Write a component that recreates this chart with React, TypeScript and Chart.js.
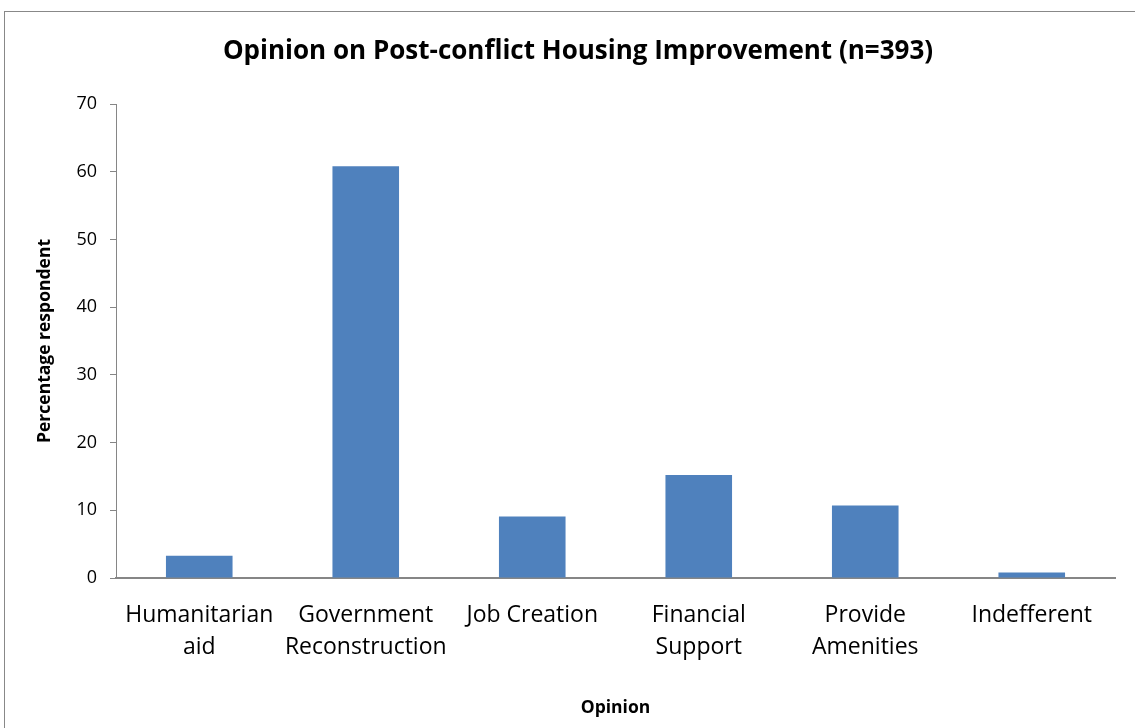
import React, { useEffect, useRef } from "react";
import { Chart, registerables } from "chart.js";

Chart.register(...registerables);

const categories: string[][] = [
  ["Humanitarian", "aid"],
  ["Government", "Reconstruction"],
  ["Job Creation"],
  ["Financial", "Support"],
  ["Provide", "Amenities"],
  ["Indefferent"],
];
const percentages: number[] = [3.3, 60.8, 9.1, 15.2, 10.7, 0.8];
const yMin = 0;
const yMax = 70;
const yStep = 10;

const chartTitle = "Opinion on Post-conflict Housing Improvement (n=393)";
const xTitle = "Opinion";
const yTitle = "Percentage respondent";

const FONT = '"Open Sans", "DejaVu Sans", sans-serif';
const AXIS_GRAY = "#868686";

export default function App() {
  const canvasRef = useRef<HTMLCanvasElement | null>(null);

  useEffect(() => {
    const canvas = canvasRef.current;
    if (!canvas) return;
    const chart = new Chart(canvas, {
      type: "bar",
      data: {
        labels: categories,
        datasets: [
          {
            data: percentages,
            backgroundColor: "#4F81BD",
            borderWidth: 0,
            barPercentage: 0.4,
            categoryPercentage: 1,
          },
        ],
      },
      options: {
        responsive: false,
        animation: false,
        devicePixelRatio: 1,
        layout: { padding: { left: 41, right: 20, top: 0, bottom: 0 } },
        plugins: {
          legend: { display: false },
          tooltip: { enabled: false },
          title: {
            display: true,
            text: chartTitle,
            color: "#000",
            font: { family: FONT, size: 26, weight: "bold" },
            padding: { top: 36.4, bottom: 36.4 },
          },
        },
        scales: {
          x: {
            offset: true,
            grid: { display: false, drawTicks: false },
            border: { display: true, color: AXIS_GRAY, width: 2 },
            ticks: {
              color: "#000",
              padding: 21.5,
              maxRotation: 0,
              autoSkip: false,
              font: { family: FONT, size: 23, lineHeight: 1.391 },
            },
            title: {
              display: true,
              text: xTitle,
              color: "#000",
              font: { family: FONT, size: 17.5, weight: "bold" },
              padding: { top: 0, bottom: 9.5 },
            },
            afterFit: (scale: any) => {
              scale.height = 150;
            },
          },
          y: {
            min: yMin,
            max: yMax,
            grid: {
              display: true,
              drawOnChartArea: false,
              drawTicks: true,
              tickLength: 6,
              color: AXIS_GRAY,
            },
            border: { display: true, color: AXIS_GRAY, width: 1 },
            ticks: {
              stepSize: yStep,
              color: "#000",
              padding: 13,
              font: { family: FONT, size: 18 },
            },
            title: {
              display: true,
              text: yTitle,
              color: "#000",
              font: { family: FONT, size: 17.5, weight: "bold" },
              padding: { top: -6.5, bottom: 0 },
            },
            afterFit: (scale: any) => {
              scale.width = 75;
            },
          },
        },
      },
    });
    return () => chart.destroy();
  }, []);

  return (
    <div
      style={{
        position: "fixed",
        left: 0,
        top: 0,
        width: 1135,
        height: 728,
        overflow: "hidden",
        background: "#fff",
      }}
    >
      <div
        style={{
          position: "absolute",
          left: 4,
          top: 11,
          width: 1200,
          height: 800,
          border: "1px solid #888",
          boxSizing: "border-box",
        }}
      />
      <canvas
        ref={canvasRef}
        width={1135}
        height={728}
        style={{ position: "absolute", left: 0, top: 0, display: "block" }}
      />
    </div>
  );
}
